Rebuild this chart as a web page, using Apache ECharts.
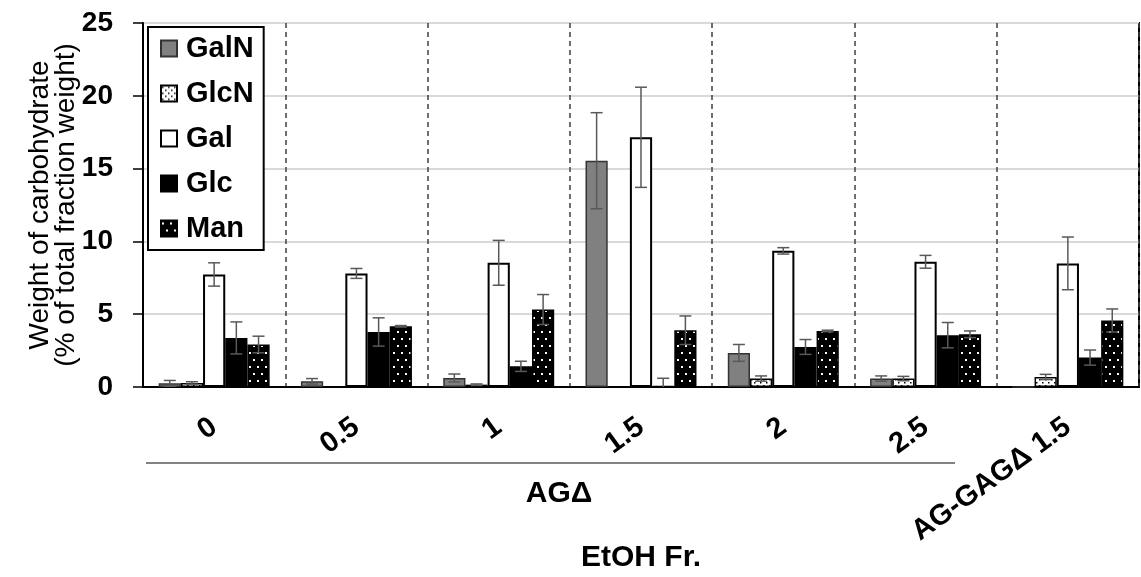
<!DOCTYPE html>
<html>
<head>
<meta charset="utf-8">
<script src="https://cdn.jsdelivr.net/npm/echarts@6/dist/echarts.min.js"></script>
<style>html,body{margin:0;padding:0;background:#fff}#c{width:1141px;height:577px}</style>
</head>
<body>
<div id="c"></div>
<script>
const categories = ['0', '0.5', '1', '1.5', '2', '2.5', 'AG-GAGΔ 1.5'];
const seriesNames = ['GalN', 'GlcN', 'Gal', 'Glc', 'Man'];
const galN    = [0.25, 0.39, 0.62, 15.54, 2.34, 0.58, 0];
const galNErr = [0.20, 0.19, 0.27, 3.30, 0.58, 0.18, 0];
const glcN    = [0.28, 0.05, 0.16, 0, 0.58, 0.58, 0.69];
const glcNErr = [0.08, 0, 0.05, 0, 0.18, 0.15, 0.18];
const gal     = [7.73, 7.80, 8.53, 17.15, 9.35, 8.60, 8.49];
const galErr  = [0.80, 0.34, 1.54, 3.44, 0.22, 0.44, 1.81];
const glc     = [3.37, 3.78, 1.42, 0.08, 2.75, 3.56, 2.02];
const glcErr  = [1.10, 0.97, 0.35, 0.52, 0.51, 0.87, 0.52];
const man     = [2.92, 4.17, 5.32, 3.90, 3.85, 3.62, 4.57];
const manErr  = [0.57, 0.05, 1.03, 0.98, 0.05, 0.23, 0.79];
const yTicks = [0, 5, 10, 15, 20, 25];

const values = [galN, glcN, gal, glc, man];
const errors = [galNErr, glcNErr, galErr, glcErr, manErr];

function makePattern(bg, fg, w, h, dots) {
  const c = document.createElement('canvas');
  c.width = w; c.height = h;
  const ctx = c.getContext('2d');
  ctx.fillStyle = bg; ctx.fillRect(0, 0, w, h);
  ctx.fillStyle = fg;
  dots.forEach(d => ctx.fillRect(d[0], d[1], d[2], d[2]));
  return { image: c, repeat: 'repeat' };
}
const glcNPat = makePattern('#ffffff', '#000000', 6, 6, [[1, 1, 1.5], [4, 4, 1.5]]);
const manPat = makePattern('#000000', '#ffffff', 8, 14, [[1, 2, 2], [5, 9, 2]]);

const styles = [
  { color: '#808080', borderColor: '#333333', borderWidth: 1.5 },
  { color: glcNPat, borderColor: '#000000', borderWidth: 1.5 },
  { color: '#ffffff', borderColor: '#000000', borderWidth: 2 },
  { color: '#000000', borderColor: '#000000', borderWidth: 1.5 },
  { color: manPat, borderColor: '#000000', borderWidth: 1.5 }
];

const FONT = 'Liberation Sans, Arial, sans-serif';
const GAP = 0.22;

const barSeries = seriesNames.map((n, s) => ({
  name: n,
  type: 'bar',
  data: values[s],
  barGap: '0%',
  barCategoryGap: (GAP * 100) + '%',
  itemStyle: styles[s],
  emphasis: { disabled: true },
  z: 2
}));

const errData = [];
values.forEach((arr, s) => arr.forEach((v, i) => errData.push([i, v, errors[s][i], s])));

const errSeries = {
  type: 'custom',
  data: errData,
  encode: { x: 0, y: 1 },
  z: 5,
  silent: true,
  renderItem: function (params, api) {
    const i = api.value(0), v = api.value(1), e = api.value(2), s = api.value(3);
    if (!e) return null;
    const catW = api.size([1, 0])[0];
    const barW = catW * (1 - GAP) / seriesNames.length;
    const x = api.coord([i, 0])[0] + (s - (seriesNames.length - 1) / 2) * barW;
    const yt = api.coord([i, v + e])[1];
    const low = v - e;
    const yb = api.coord([i, Math.max(0, low)])[1];
    const cap = 6;
    const st = { stroke: '#595959', lineWidth: 1.5 };
    const ch = [
      { type: 'line', shape: { x1: x, y1: yt, x2: x, y2: yb }, style: st },
      { type: 'line', shape: { x1: x - cap, y1: yt, x2: x + cap, y2: yt }, style: st }
    ];
    if (low >= 0) ch.push({ type: 'line', shape: { x1: x - cap, y1: yb, x2: x + cap, y2: yb }, style: st });
    return { type: 'group', children: ch };
  }
};

const chart = echarts.init(document.getElementById('c'), null, { renderer: 'canvas' });
chart.setOption({
  animation: false,
  backgroundColor: '#ffffff',
  textStyle: { fontFamily: FONT },
  grid: { left: 143, right: 2, top: 23, bottom: 190, show: true, borderColor: '#000', borderWidth: 2, backgroundColor: 'transparent', containLabel: false, outerBoundsMode: 'none' },
  legend: {
    data: seriesNames,
    orient: 'vertical',
    left: 148, top: 27,
    backgroundColor: '#ffffff',
    borderColor: '#000000', borderWidth: 2,
    padding: [7, 10, 7, 12],
    itemGap: 16,
    itemWidth: 16, itemHeight: 16,
    icon: 'rect',
    textStyle: { fontFamily: FONT, fontSize: 29, fontWeight: 'bold', color: '#000', padding: [0, 0, 0, 4] },
    selectedMode: false
  },
  xAxis: {
    type: 'category',
    data: categories,
    name: 'EtOH Fr.',
    nameLocation: 'middle',
    nameGap: 156,
    nameMoveOverlap: false,
    nameTextStyle: { fontFamily: FONT, fontSize: 30, fontWeight: 'bold', color: '#000' },
    axisLine: { lineStyle: { color: '#000', width: 2 } },
    axisTick: { show: false },
    axisLabel: { rotate: 36, margin: 37, fontFamily: FONT, fontSize: 29, fontWeight: 'bold', color: '#000', interval: 0 },
    splitLine: { show: true, interval: 0, lineStyle: { color: '#404040', width: 1.5, type: [5, 4] } }
  },
  yAxis: {
    type: 'value',
    min: yTicks[0], max: yTicks[yTicks.length - 1], interval: 5,
    name: 'Weight of carbohydrate\n(% of total fraction weight)',
    nameLocation: 'middle',
    nameRotate: 90,
    nameGap: 64,
    nameMoveOverlap: false,
    nameTextStyle: { fontFamily: FONT, fontSize: 28, color: '#000', lineHeight: 26 },
    axisLine: { show: true, lineStyle: { color: '#000', width: 2 } },
    axisTick: { show: true, inside: false, length: 10, lineStyle: { color: '#000', width: 1.5 } },
    axisLabel: { margin: 30, fontFamily: FONT, fontSize: 28, fontWeight: 'bold', color: '#000' },
    splitLine: { show: true, lineStyle: { color: '#d9d9d9', width: 2 } }
  },
  graphic: [
    { type: 'line', shape: { x1: 146, y1: 463, x2: 955, y2: 463 }, style: { stroke: '#595959', lineWidth: 1.5 }, z: 10 },
    { type: 'text', x: 559, y: 494, style: { text: 'AGΔ', font: 'bold 30px Liberation Sans, Arial, sans-serif', fill: '#000', textAlign: 'center', textVerticalAlign: 'middle' }, z: 10 }
  ],
  series: barSeries.concat([errSeries])
});
</script>
</body>
</html>
